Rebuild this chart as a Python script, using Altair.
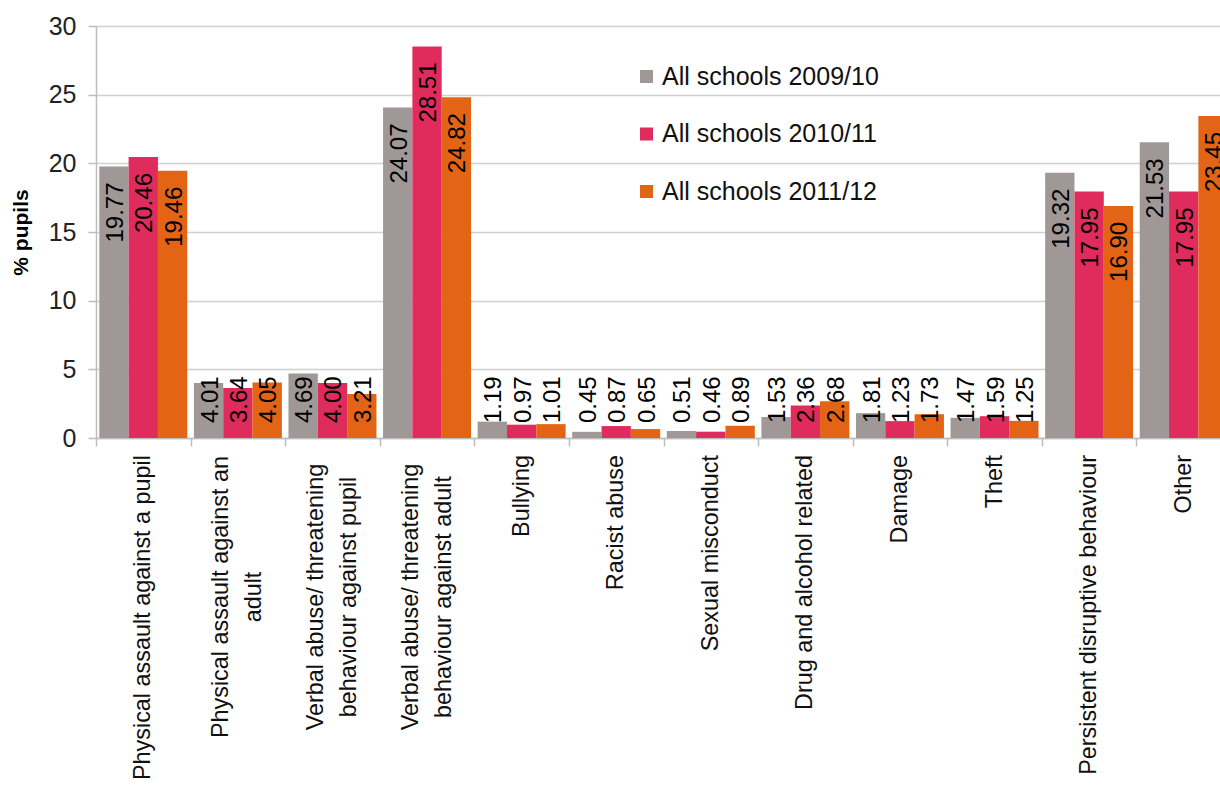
import altair as alt
import pandas as pd

categories = [
    "Physical assault against a pupil",
    "Physical assault against an|adult",
    "Verbal abuse/ threatening|behaviour against pupil",
    "Verbal abuse/ threatening|behaviour against adult",
    "Bullying",
    "Racist abuse",
    "Sexual misconduct",
    "Drug and alcohol related",
    "Damage",
    "Theft",
    "Persistent disruptive behaviour",
    "Other",
]
series = ["All schools 2009/10", "All schools 2010/11", "All schools 2011/12"]
v2009 = [19.77, 4.01, 4.69, 24.07, 1.19, 0.45, 0.51, 1.53, 1.81, 1.47, 19.32, 21.53]
v2010 = [20.46, 3.64, 4.00, 28.51, 0.97, 0.87, 0.46, 2.36, 1.23, 1.59, 17.95, 17.95]
v2011 = [19.46, 4.05, 3.21, 24.82, 1.01, 0.65, 0.89, 2.68, 1.73, 1.25, 16.90, 23.45]
colors = ["#A09896", "#E02C5C", "#E26414"]
y_ticks = [0, 5, 10, 15, 20, 25, 30]

rows = []
for s, vals in zip(series, [v2009, v2010, v2011]):
    for c, v in zip(categories, vals):
        rows.append({"category": c, "series": s, "value": v})
df = pd.DataFrame(rows)
cat_df = pd.DataFrame({"category": categories})

FONT = "Liberation Sans"

x_enc = alt.X(
    "category:N",
    sort=categories,
    scale=alt.Scale(range=[0, 1135], paddingInner=0, paddingOuter=0),
    axis=alt.Axis(
        title=None,
        labels=False,
        tickBand="extent",
        tickSize=8,
        tickColor="#BDBDBD",
        tickWidth=1.5,
        domainColor="#BDBDBD",
        domainWidth=1.5,
        grid=False,
    ),
)
xoff = alt.XOffset("series:N", sort=series, scale=alt.Scale(paddingInner=0, paddingOuter=0.113))
y_enc = alt.Y(
    "value:Q",
    scale=alt.Scale(domain=[0, 30], nice=False),
    axis=alt.Axis(
        title="% pupils",
        titleFont=FONT,
        titleFontSize=21,
        titleFontWeight="bold",
        titleColor="#000000",
        titlePadding=17,
        values=y_ticks,
        labelFont=FONT,
        labelFontSize=25,
        labelColor="#222222",
        labelPadding=12,
        tickSize=8,
        tickColor="#BDBDBD",
        tickWidth=1.5,
        domainColor="#BDBDBD",
        domainWidth=1.5,
        grid=True,
        gridColor="#D0D0D0",
        gridWidth=1.5,
    ),
)

base = alt.Chart(df)

bars = base.mark_bar().encode(
    x=x_enc,
    xOffset=xoff,
    y=y_enc,
    color=alt.Color(
        "series:N",
        sort=series,
        scale=alt.Scale(domain=series, range=colors),
        legend=alt.Legend(
            title=None,
            orient="none",
            legendX=538,
            legendY=38,
            symbolType="square",
            symbolSize=169,
            symbolStrokeWidth=0,
            labelFont=FONT,
            labelFontSize=25,
            labelColor="#111111",
            labelOffset=3,
            rowPadding=31.5,
            padding=0,
            labelLimit=400,
        ),
    ),
)

labels_big = base.transform_filter("datum.value >= 6").mark_text(
    angle=270, align="right", baseline="middle", dx=-16, dy=2,
    font=FONT, fontSize=24, color="#000000",
).encode(
    x=alt.X("category:N", sort=categories),
    xOffset=alt.XOffset("series:N", sort=series),
    y=alt.Y("value:Q"),
    text=alt.Text("value:Q", format=".2f"),
)

labels_small = base.transform_filter("datum.value < 6").mark_text(
    angle=270, align="left", baseline="middle", dx=15, dy=2,
    font=FONT, fontSize=24, color="#000000",
).encode(
    x=alt.X("category:N", sort=categories),
    xOffset=alt.XOffset("series:N", sort=series),
    y=alt.datum(0),
    text=alt.Text("value:Q", format=".2f"),
)

cat_base = alt.Chart(cat_df).transform_calculate(
    line1="split(datum.category, '|')[0]",
    line2="split(datum.category, '|')[1]",
    multi="indexof(datum.category, '|') >= 0",
)

xlab_single = cat_base.transform_filter("!datum.multi").mark_text(
    angle=270, align="right", baseline="middle", dx=-17,
    font=FONT, fontSize=23.4, color="#111111",
).encode(
    x=alt.X("category:N", sort=categories),
    y=alt.datum(0),
    text=alt.Text("line1:N"),
)

xlab_multi1 = cat_base.transform_filter("datum.multi").mark_text(
    angle=270, align="center", baseline="middle", dx=-159, dy=-16.5,
    font=FONT, fontSize=23.4, color="#111111",
).encode(
    x=alt.X("category:N", sort=categories),
    y=alt.datum(0),
    text=alt.Text("line1:N"),
)

xlab_multi2 = cat_base.transform_filter("datum.multi").mark_text(
    angle=270, align="center", baseline="middle", dx=-159, dy=16.5,
    font=FONT, fontSize=23.4, color="#111111",
).encode(
    x=alt.X("category:N", sort=categories),
    y=alt.datum(0),
    text=alt.Text("line2:N"),
)

chart = alt.layer(
    bars, labels_big, labels_small, xlab_single, xlab_multi1, xlab_multi2
).properties(
    width=1124,
    height=412,
    autosize=alt.AutoSizeParams(type="none"),
    padding={"left": 96, "top": 26, "right": 0, "bottom": 354},
    background="white",
).configure_view(stroke=None)

chart.save("out.html", embed_options={"renderer": "svg", "actions": False})
